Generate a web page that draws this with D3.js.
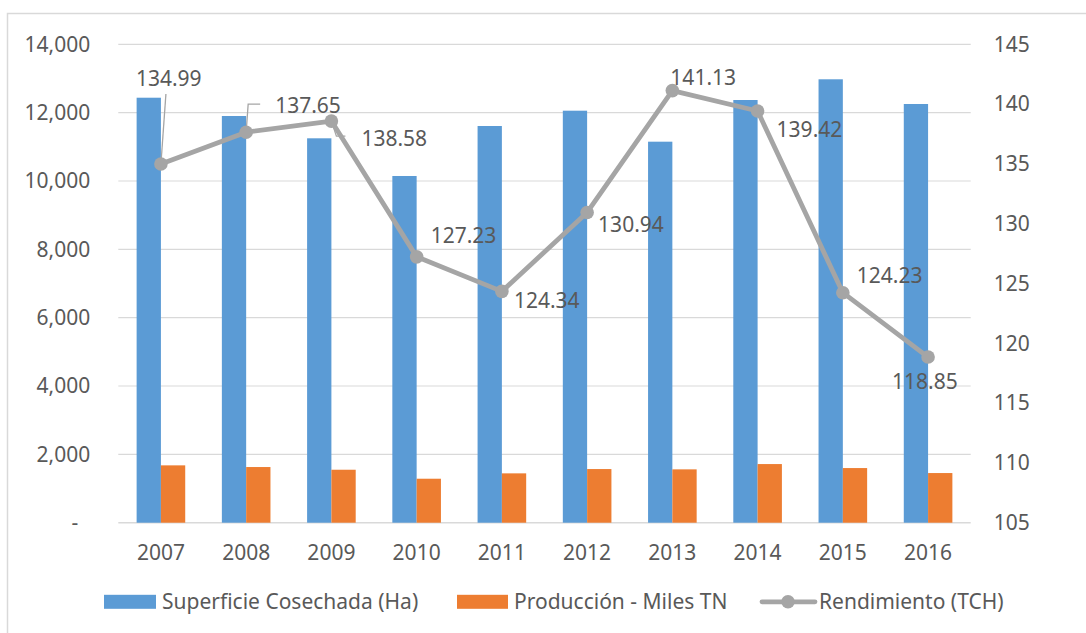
<!DOCTYPE html>
<html>
<head>
<meta charset="utf-8">
<script src="https://cdn.jsdelivr.net/npm/d3@7"></script>
<style>
  html, body { margin: 0; padding: 0; background: #fff; }
  svg { display: block; }
  text { font-family: "Noto Sans", "Open Sans", sans-serif; fill: #595959; }
</style>
</head>
<body>
<svg id="chart" width="1086" height="633"></svg>
<script>
// Years on the category axis
const years = ["2007", "2008", "2009", "2010", "2011", "2012", "2013", "2014", "2015", "2016"];
// Superficie Cosechada (Ha)
const superficie = [12437, 11902, 11249, 10146, 11609, 12057, 11150, 12370, 12976, 12253];
// Producción - Miles TN
const produccion = [1678, 1629, 1550, 1287, 1444, 1570, 1561, 1716, 1599, 1453];
// Rendimiento (TCH)
const rendimiento = [134.99, 137.65, 138.58, 127.23, 124.34, 130.94, 141.13, 139.42, 124.23, 118.85];
// Axis ticks
const leftTicks = [0, 2000, 4000, 6000, 8000, 10000, 12000, 14000];
const rightTicks = [105, 110, 115, 120, 125, 130, 135, 140, 145];
const seriesNames = ["Superficie Cosechada (Ha)", "Producción - Miles TN", "Rendimiento (TCH)"];

// Placement of each data label relative to its point: [dx to text start, dy to baseline]
const labelOffsets = [[-25, -78], [29, -19], [30, 25], [14, -14], [12, 17],
                      [11, 20], [-2, -6], [19, 26], [14, -10], [-36, 32]];

const colors = { blue: "#5B9BD5", orange: "#ED7D31", grey: "#A5A5A5", grid: "#D9D9D9" };
const fontSize = "21px";

const svg = d3.select("#chart");
const plot = { left: 118.3, right: 970.7, top: 44.3, bottom: 522.7 };

// Outer chart frame
svg.append("rect")
  .attr("x", 7.5).attr("y", 13.5)
  .attr("width", 1200).attr("height", 800)
  .attr("fill", "none").attr("stroke", colors.grid).attr("stroke-width", 1.5);

const x = d3.scaleBand().domain(years).range([plot.left, plot.right]).padding(0);
const yL = d3.scaleLinear().domain([0, 14000]).range([plot.bottom, plot.top]);
const yR = d3.scaleLinear().domain([105, 145]).range([plot.bottom, plot.top]);

// Gridlines
svg.append("g").selectAll("line").data(leftTicks).join("line")
  .attr("x1", plot.left).attr("x2", plot.right)
  .attr("y1", d => yL(d)).attr("y2", d => yL(d))
  .attr("stroke", colors.grid).attr("stroke-width", d => d === 0 ? 1.6 : 1.2);

// Left axis
const leftAxis = d3.axisLeft(yL).tickValues(leftTicks).tickSize(0).tickPadding(0)
  .tickFormat(d => d === 0 ? "-" : d3.format(",")(d));
const gL = svg.append("g").attr("transform", `translate(${plot.left - 28},0)`).call(leftAxis);
gL.select(".domain").remove();
gL.selectAll("text").style("font-size", fontSize).attr("fill", "#595959")
  .attr("dx", d => d === 0 ? -12 : 0);

// Right axis
const rightAxis = d3.axisRight(yR).tickValues(rightTicks).tickSize(0).tickPadding(0);
const gR = svg.append("g").attr("transform", `translate(${plot.right + 23},0)`).call(rightAxis);
gR.select(".domain").remove();
gR.selectAll("text").style("font-size", fontSize).attr("fill", "#595959");

// Category axis labels
const bottomAxis = d3.axisBottom(x).tickSize(0).tickPadding(0);
const gB = svg.append("g").attr("transform", `translate(0,${plot.bottom + 22})`).call(bottomAxis);
gB.select(".domain").remove();
gB.selectAll("text").style("font-size", fontSize).attr("fill", "#595959");

// Bars
const barW = 24.3;
svg.append("g").selectAll("rect").data(superficie).join("rect")
  .attr("x", (d, i) => x(years[i]) + x.bandwidth() / 2 - barW)
  .attr("y", d => yL(d))
  .attr("width", barW)
  .attr("height", d => yL(0) - yL(d))
  .attr("fill", colors.blue);

svg.append("g").selectAll("rect").data(produccion).join("rect")
  .attr("x", (d, i) => x(years[i]) + x.bandwidth() / 2)
  .attr("y", d => yL(d))
  .attr("width", barW)
  .attr("height", d => yL(0) - yL(d))
  .attr("fill", colors.orange);

// Rendimiento line
const pts = rendimiento.map((v, i) => [x(years[i]) + x.bandwidth() / 2, yR(v)]);

// Leader lines for the labels moved away from their points
const leaders = [
  [[pts[0][0], pts[0][1]], [pts[0][0] + 5, pts[0][1] - 70]],
  [[pts[1][0], pts[1][1]], [pts[1][0] + 2, pts[1][1] - 28], [pts[1][0] + 14, pts[1][1] - 28]],
  [[pts[2][0] + 2, pts[2][1] + 6], [pts[2][0] + 5, pts[2][1] + 15], [pts[2][0] + 14, pts[2][1] + 15]]
];
svg.append("g").selectAll("path").data(leaders).join("path")
  .attr("d", d => d3.line()(d))
  .attr("fill", "none").attr("stroke", colors.grey).attr("stroke-width", 1.3);

svg.append("path")
  .attr("d", d3.line()(pts))
  .attr("fill", "none").attr("stroke", colors.grey)
  .attr("stroke-width", 4.8).attr("stroke-linejoin", "round");

svg.append("g").selectAll("circle").data(pts).join("circle")
  .attr("cx", d => d[0]).attr("cy", d => d[1]).attr("r", 6.8)
  .attr("fill", colors.grey);

// Data labels
svg.append("g").selectAll("text").data(rendimiento).join("text")
  .attr("x", (d, i) => pts[i][0] + labelOffsets[i][0])
  .attr("y", (d, i) => pts[i][1] + labelOffsets[i][1])
  .style("font-size", fontSize).attr("fill", "#404040")
  .text(d => d3.format(".2f")(d));

// Legend
const legend = svg.append("g");
const legendY = 601.8;
legend.append("rect").attr("x", 104).attr("y", legendY - 7).attr("width", 52).attr("height", 14).attr("fill", colors.blue);
legend.append("text").attr("x", 162).attr("y", legendY).attr("dy", "0.35em")
  .style("font-size", fontSize).text(seriesNames[0]);
legend.append("rect").attr("x", 457).attr("y", legendY - 7).attr("width", 51).attr("height", 14).attr("fill", colors.orange);
legend.append("text").attr("x", 514).attr("y", legendY).attr("dy", "0.35em")
  .style("font-size", fontSize).text(seriesNames[1]);
legend.append("line").attr("x1", 762).attr("x2", 815).attr("y1", legendY).attr("y2", legendY)
  .attr("stroke", colors.grey).attr("stroke-width", 4.8).attr("stroke-linecap", "round");
legend.append("circle").attr("cx", 788).attr("cy", legendY).attr("r", 6.8).attr("fill", colors.grey);
legend.append("text").attr("x", 819).attr("y", legendY).attr("dy", "0.35em")
  .style("font-size", fontSize).text(seriesNames[2]);
</script>
</body>
</html>
